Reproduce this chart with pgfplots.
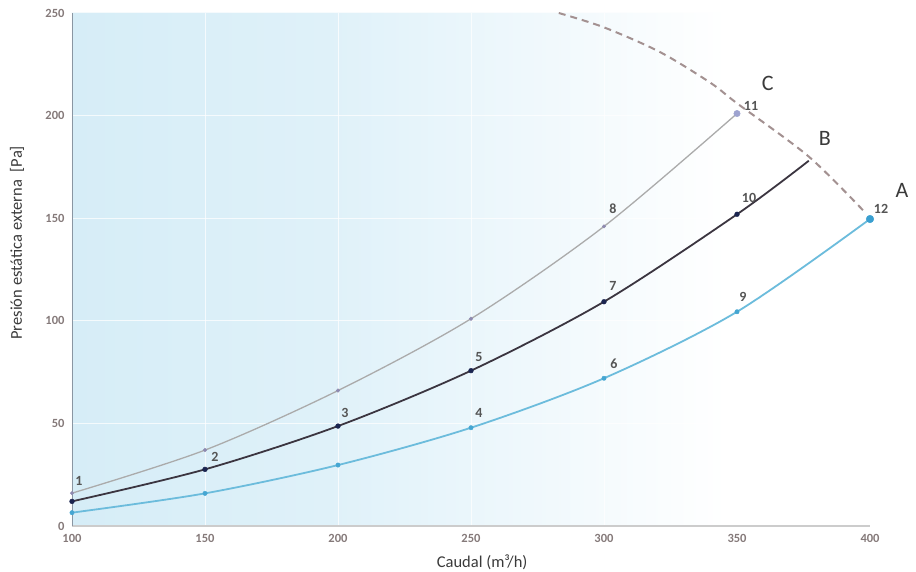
\documentclass[border=0pt]{standalone}
\usepackage{pgfplots}
\pgfplotsset{compat=1.18}
\usepackage{fontspec}
\setmainfont{Carlito}
\definecolor{bgA}{HTML}{D6EDF7}
\definecolor{bgB}{HTML}{DFF1F9}
\definecolor{tickgray}{HTML}{857A7A}
\definecolor{labgray}{HTML}{3A3A3A}
\definecolor{numgray}{HTML}{555555}
\definecolor{axgray}{HTML}{CCCCCC}
\definecolor{ayline}{HTML}{8A96A2}
\definecolor{Cline}{HTML}{ABABAB}
\definecolor{Cmark}{HTML}{8E8AB0}
\definecolor{Cbig}{HTML}{9EA3D0}
\definecolor{Bline}{HTML}{3B3540}
\definecolor{Bmark}{HTML}{1B2550}
\definecolor{Aline}{HTML}{6CBCDC}
\definecolor{Amark}{HTML}{45A6D2}
\definecolor{Abig}{HTML}{3A9FD0}
\definecolor{dashcol}{HTML}{A39191}
\pgfdeclarehorizontalshading{bgshade}{100bp}{color(0bp)=(bgA); color(25bp)=(bgA); color(41bp)=(bgB); color(66bp)=(white); color(100bp)=(white)}
\begin{document}
\begin{tikzpicture}
\path[use as bounding box] (0pt,0pt) rectangle (916pt,572pt);
\begin{axis}[
  at={(72pt,46pt)}, anchor=south west,
  scale only axis, width=798pt, height=513pt,
  xmin=100, xmax=400, ymin=0, ymax=250,
  xtick={100,150,...,400}, ytick={0,50,...,250},
  axis lines=left,
  x axis line style={-, draw=axgray, line width=1.5pt},
  y axis line style={-, draw=ayline, line width=0.8pt},
  major tick length=0pt, tick style={draw=none},
  grid=major, grid style={white, line width=1pt, opacity=0.75},
  axis background/.style={shading=bgshade},
  clip=false,
  /pgf/number format/assume math mode=true,
  ticklabel style={font=\fontsize{12.5}{14}\selectfont\bfseries, text=tickgray},
  xticklabel style={yshift=-5pt},
  yticklabel style={xshift=-4pt},
  xlabel={Caudal (m³/h)},
  ylabel={Presión estática externa\ \ [Pa]},
  every axis x label/.style={at={(axis description cs:0.514,0)}, yshift=-36pt, anchor=center, font=\fontsize{16.5}{18}\selectfont, text=labgray},
  every axis y label/.style={at={(axis description cs:0,0.552)}, xshift=-55pt, rotate=90, anchor=center, font=\fontsize{16.5}{18}\selectfont, text=labgray},
]
% dashed limit curve
\addplot[smooth, dash pattern=on 7pt off 5pt, line width=2pt, color=dashcol] coordinates {(283,250) (300,243) (321,231) (340,216) (350,206) (377,180) (398,153)};
% curve C
\addplot[smooth, draw=Cline, line width=1.3pt] coordinates {(100,16) (150,37) (200,66) (250,101) (300,146) (350,201)};
\addplot[only marks, mark=*, mark size=1.8pt, color=Cmark] coordinates {(100,16) (150,37) (200,66) (250,101) (300,146)};
\addplot[only marks, mark=*, mark size=3.2pt, color=Cbig] coordinates {(350,201)};
% curve B
\addplot[smooth, draw=Bline, line width=1.8pt] coordinates {(100,12) (150,27.6) (200,48.7) (250,75.7) (300,109.3) (350,151.9) (377,178)};
\addplot[only marks, mark=*, mark size=2.4pt, color=Bmark] coordinates {(100,12) (150,27.6) (200,48.7) (250,75.7) (300,109.3) (350,151.9)};
% curve A
\addplot[smooth, draw=Aline, line width=1.8pt] coordinates {(100,6.5) (150,15.9) (200,29.7) (250,47.9) (300,72) (350,104.4) (400,149.6)};
\addplot[only marks, mark=*, mark size=2.2pt, color=Amark] coordinates {(100,6.5) (150,15.9) (200,29.7) (250,47.9) (300,72) (350,104.4)};
\addplot[only marks, mark=*, mark size=3.8pt, color=Abig] coordinates {(400,149.6)};
% point numbers
\begin{scope}[every node/.style={font=\fontsize{14}{16}\selectfont\bfseries, text=numgray}]
\node[xshift=7pt, yshift=20pt] at (axis cs:100,12) {1};
\node[xshift=10pt, yshift=12pt] at (axis cs:150,27.6) {2};
\node[xshift=7pt, yshift=13pt] at (axis cs:200,48.7) {3};
\node[xshift=8pt, yshift=15pt] at (axis cs:250,47.9) {4};
\node[xshift=8pt, yshift=14pt] at (axis cs:250,75.7) {5};
\node[xshift=10pt, yshift=14pt] at (axis cs:300,72) {6};
\node[xshift=9pt, yshift=16pt] at (axis cs:300,109.3) {7};
\node[xshift=9pt, yshift=18pt] at (axis cs:300,146) {8};
\node[xshift=6pt, yshift=15pt] at (axis cs:350,104.4) {9};
\node[xshift=12pt, yshift=16pt] at (axis cs:350,151.9) {10};
\node[xshift=14pt, yshift=8pt] at (axis cs:350,201) {11};
\node[xshift=11pt, yshift=10pt] at (axis cs:400,149.6) {12};
\end{scope}
% curve letters
\begin{scope}[every node/.style={font=\fontsize{22}{24}\selectfont, text=labgray}]
\node at (axis cs:361.6,215.9) {C};
\node at (axis cs:383,189) {B};
\node at (axis cs:412,163.7) {A};
\end{scope}
\end{axis}
\end{tikzpicture}
\end{document}
